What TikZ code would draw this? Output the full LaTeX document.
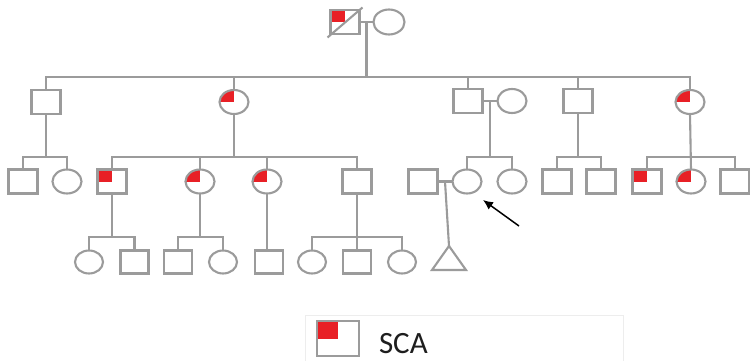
\documentclass[tikz,border=0pt]{standalone}
\usepackage{fontspec}
\setmainfont{Carlito}
\usetikzlibrary{shapes.geometric,calc,arrows.meta}
\definecolor{lc}{RGB}{155,155,155}
\definecolor{sca}{RGB}{232,32,38}
\definecolor{txt}{RGB}{30,30,30}
\begin{document}
\begin{tikzpicture}[x=1pt,y=-1pt,
  every node/.style={inner sep=0pt, outer sep=0pt},
  male/.style={draw=lc, line width=2.1pt, rectangle, minimum width=29pt, minimum height=24pt, fill=white},
  female/.style={draw=lc, line width=2.1pt, ellipse, minimum width=29pt, minimum height=24pt, fill=white},
  small/.style={minimum width=28pt, minimum height=23pt},
  aff/.style={path picture={\fill[sca] (path picture bounding box.center) rectangle (path picture bounding box.north west);}},
  ln/.style={draw=lc, line width=2.1pt},
  arr/.style={draw=black, line width=1.5pt, -{Latex[length=10pt,width=9pt]}},
]
\useasboundingbox[fill=white] (0,0) rectangle (750,361);
% legend frame (faint)
\draw[black!7, line width=0.8pt] (305,315) rectangle (623,362);

% Generation I
\node[male,aff] (A) at (345,22) {};
\node[female, minimum width=31pt, minimum height=25pt] (B) at (389,22) {};
\draw[lc, line width=2.1pt] ($(A.south west)+(-3,3.5)$) -- ($(A.north east)+(3,-2.5)$);

% Generation II
\node[male] (s21) at (46,102) {};
\node[female,aff] (f22) at (234,102) {};
\node[male] (s23) at (468,101) {};
\node[female] (f24) at (512,101) {};
\node[male] (s25) at (578,101) {};
\node[female,aff] (f26) at (690,102) {};

% Generation III
\node[male] (c1) at (23,181.5) {};
\node[female] (c2) at (67,181.5) {};
\node[male,aff] (c3) at (112,181.5) {};
\node[female,aff] (c4) at (200,181.5) {};
\node[female,aff] (c5) at (267,181.5) {};
\node[male] (c6) at (357,181.5) {};
\node[male] (c7) at (423,181.5) {};
\node[female] (c8) at (467,181.5) {};
\node[female] (c9) at (512,181.5) {};
\node[male] (c10) at (557,181.5) {};
\node[male] (c11) at (601,181.5) {};
\node[male,aff] (c12) at (647,181.5) {};
\node[female,aff] (c13) at (691,181.5) {};
\node[male] (c14) at (735,181.5) {};

% Generation IV
\node[female,small] (g1) at (89,262) {};
\node[male,small] (g2) at (134.5,262) {};
\node[male,small] (g3) at (178,262) {};
\node[female,small] (g4) at (223,262) {};
\node[male,small] (g5) at (269,262) {};
\node[female,small] (g6) at (312,262) {};
\node[male,small] (g7) at (357,262) {};
\node[female,small] (g8) at (402,262) {};
\coordinate (tri) at (449,246);
\draw[ln, line join=miter] (tri) -- (466,270) -- (432,270) -- cycle;

% level coordinates
\coordinate (y2) at (0,77);
\coordinate (y3) at (0,157);
\coordinate (y4) at (0,237);

% Generation I -> II
\draw[ln] (A.east) -- (B.west);
\coordinate (m1) at ($(A.east)!0.5!(B.west)$);
\draw[ln] (m1) -- (m1 |- y2);
\draw[ln] (s21.north) |- (f26.north |- y2) -- (f26.north);
\draw[ln] (f22.north) -- (f22.north |- y2);
\draw[ln] (s23.north) -- (s23.north |- y2);
\draw[ln] (s25.north) -- (s25.north |- y2);

% Generation II -> III
\draw[ln] (s21.south) -- (s21.south |- y3);
\draw[ln] (c1.north) |- (c2.north |- y3) -- (c2.north);
\draw[ln] (f22.south) -- (f22.south |- y3);
\draw[ln] (c3.north) |- (c6.north |- y3) -- (c6.north);
\draw[ln] (c4.north) -- (c4.north |- y3);
\draw[ln] (c5.north) -- (c5.north |- y3);
\draw[ln] (s23.east) -- (f24.west);
\coordinate (m2) at ($(s23.east)!0.5!(f24.west)$);
\draw[ln] (m2) -- (m2 |- y3);
\draw[ln] (c8.north) |- (c9.north |- y3) -- (c9.north);
\draw[ln] (s25.south) -- (s25.south |- y3);
\draw[ln] (c10.north) |- (c11.north |- y3) -- (c11.north);
\draw[ln] (f26.south) -- (c13.north);
\draw[ln] (c12.north) |- (c14.north |- y3) -- (c14.north);

% Generation III -> IV
\draw[ln] (c3.south) -- (c3.south |- y4);
\draw[ln] (g1.north) |- (g2.north |- y4) -- (g2.north);
\draw[ln] (c4.south) -- (c4.south |- y4);
\draw[ln] (g3.north) |- (g4.north |- y4) -- (g4.north);
\draw[ln] (c5.south) -- (c5.south |- g5.north);
\draw[ln] (c6.south) -- (g7.north);
\draw[ln] (g6.north) |- (g8.north |- y4) -- (g8.north);
\draw[ln] (c7.east) -- (c8.west);
\coordinate (m3) at ($(c7.east)!0.5!(c8.west)$);
\draw[ln] (m3) -- (tri);

% proband arrow
\coordinate (arrS) at (519,226);
\coordinate (arrE) at (483,200);
\draw[arr] (arrS) -- (arrE);

% legend
\node[male,aff, minimum width=42pt, minimum height=35pt] (leg) at (338,338.5) {};
\node[anchor=base west, text=txt, font=\fontsize{31}{31}\selectfont] (legtxt) at (379,353.5) {SCA};
\end{tikzpicture}
\end{document}
